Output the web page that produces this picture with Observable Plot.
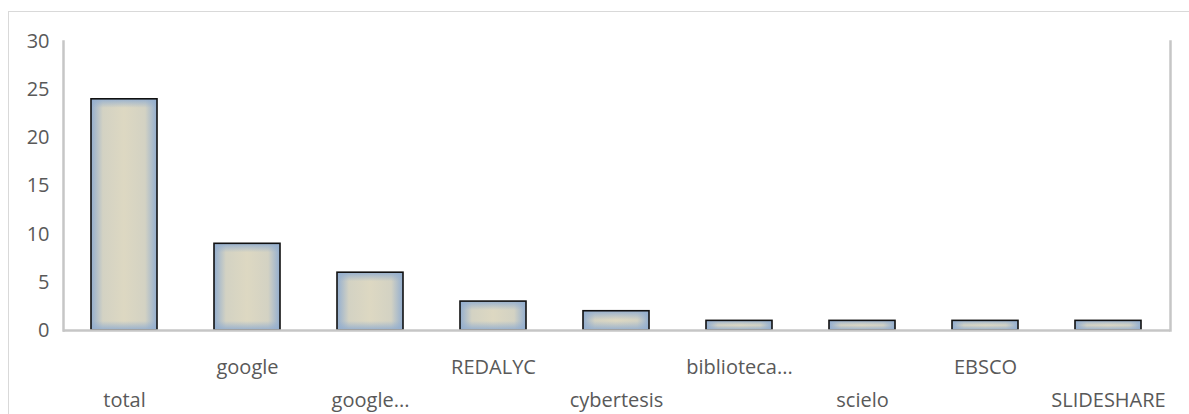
<!DOCTYPE html>
<html><head><meta charset="utf-8">
<script src="https://cdn.jsdelivr.net/npm/d3@7"></script>
<script src="https://cdn.jsdelivr.net/npm/@observablehq/plot@0.6"></script>
<style>
body{margin:0;background:#fff;}
#wrap{position:relative;width:1189px;height:414px;overflow:hidden;}
#border{position:absolute;left:8px;top:11px;width:1200px;height:420px;border:1px solid #d9d9d9;box-sizing:border-box;}
#chart{position:absolute;left:0;top:0;}
</style></head>
<body><div id="wrap"><div id="border"></div><div id="chart"></div></div>
<script>
const categories = ["total","google","google...","REDALYC","cybertesis","biblioteca...","scielo","EBSCO","SLIDESHARE"];
const values = [24, 9, 6, 3, 2, 1, 1, 1, 1];
const yTicks = [0,5,10,15,20,25,30];

const data = categories.map((c,i)=>({cat:c, v:values[i], i}));
const upper = data.filter(d => d.i % 2 === 1);
const lower = data.filter(d => d.i % 2 === 0);
const font = "Open Sans, sans-serif";
const blue = "#93aecf";

const defs = () => {
  const s = d3.create("svg:defs");
  const h = s.append("linearGradient").attr("id","gh").attr("x1",0).attr("x2",1).attr("y1",0).attr("y2",0);
  h.append("stop").attr("offset","0").attr("stop-color",blue);
  h.append("stop").attr("offset","0.18").attr("stop-color","#d3d2c3");
  h.append("stop").attr("offset","0.5").attr("stop-color","#ddd8c2");
  h.append("stop").attr("offset","0.82").attr("stop-color","#d3d2c3");
  h.append("stop").attr("offset","1").attr("stop-color",blue);
  return s.node();
};

const chart = Plot.plot({
  width: 1189, height: 414,
  marginLeft: 63, marginRight: 19, marginTop: 41, marginBottom: 84,
  style: {fontFamily: font, fontSize: "20px", color: "#595959", background: "transparent"},
  x: {domain: categories, paddingInner: 0.46, paddingOuter: 0.23, axis: null},
  y: {domain: [0,30], axis: null},
  marks: [
    defs,
    Plot.barY(data, {x:"cat", y:"v", fill:"url(#gh)"}),
    Plot.barY(data, {x:"cat", y:"v", fill:"none", stroke:"#111", strokeWidth:1.6, className:"overlay"}),
    Plot.frame({anchor:"left", stroke:"#c6c6c6", strokeWidth:2.5}),
    Plot.frame({anchor:"right", stroke:"#c6c6c6", strokeWidth:2.5}),
    Plot.ruleY([0], {stroke:"#c6c6c6", strokeWidth:2.5}),
    Plot.axisY({ticks: yTicks, tickSize:0, tickPadding:14, label:null, tickFormat: d=>String(d), fontSize:20, fill:"#595959"}),
    Plot.text(upper, {x:"cat", y:0, text:"cat", dy:37, fill:"#595959", fontSize:20, lineAnchor:"middle", textAnchor:"middle"}),
    Plot.text(lower, {x:"cat", y:0, text:"cat", dy:70, fill:"#595959", fontSize:20, lineAnchor:"middle", textAnchor:"middle"})
  ]
});
// per-bar vertical edge shading so short bars look blue like the reference
const sdefs = d3.select(chart).select("defs");
d3.select(chart).selectAll("g.overlay rect").each(function(d,k){
  const h = +this.getAttribute("height");
  const e = Math.min(0.5, 9 / h);
  const id = "gv" + k;
  const g = sdefs.append("linearGradient").attr("id", id).attr("x1",0).attr("x2",0).attr("y1",0).attr("y2",1);
  g.append("stop").attr("offset",0).attr("stop-color",blue).attr("stop-opacity",0.95);
  g.append("stop").attr("offset",e).attr("stop-color",blue).attr("stop-opacity",0);
  g.append("stop").attr("offset",1-e).attr("stop-color",blue).attr("stop-opacity",0);
  g.append("stop").attr("offset",1).attr("stop-color",blue).attr("stop-opacity",0.95);
  this.setAttribute("fill", "url(#" + id + ")");
});
document.getElementById("chart").appendChild(chart);
</script></body></html>
